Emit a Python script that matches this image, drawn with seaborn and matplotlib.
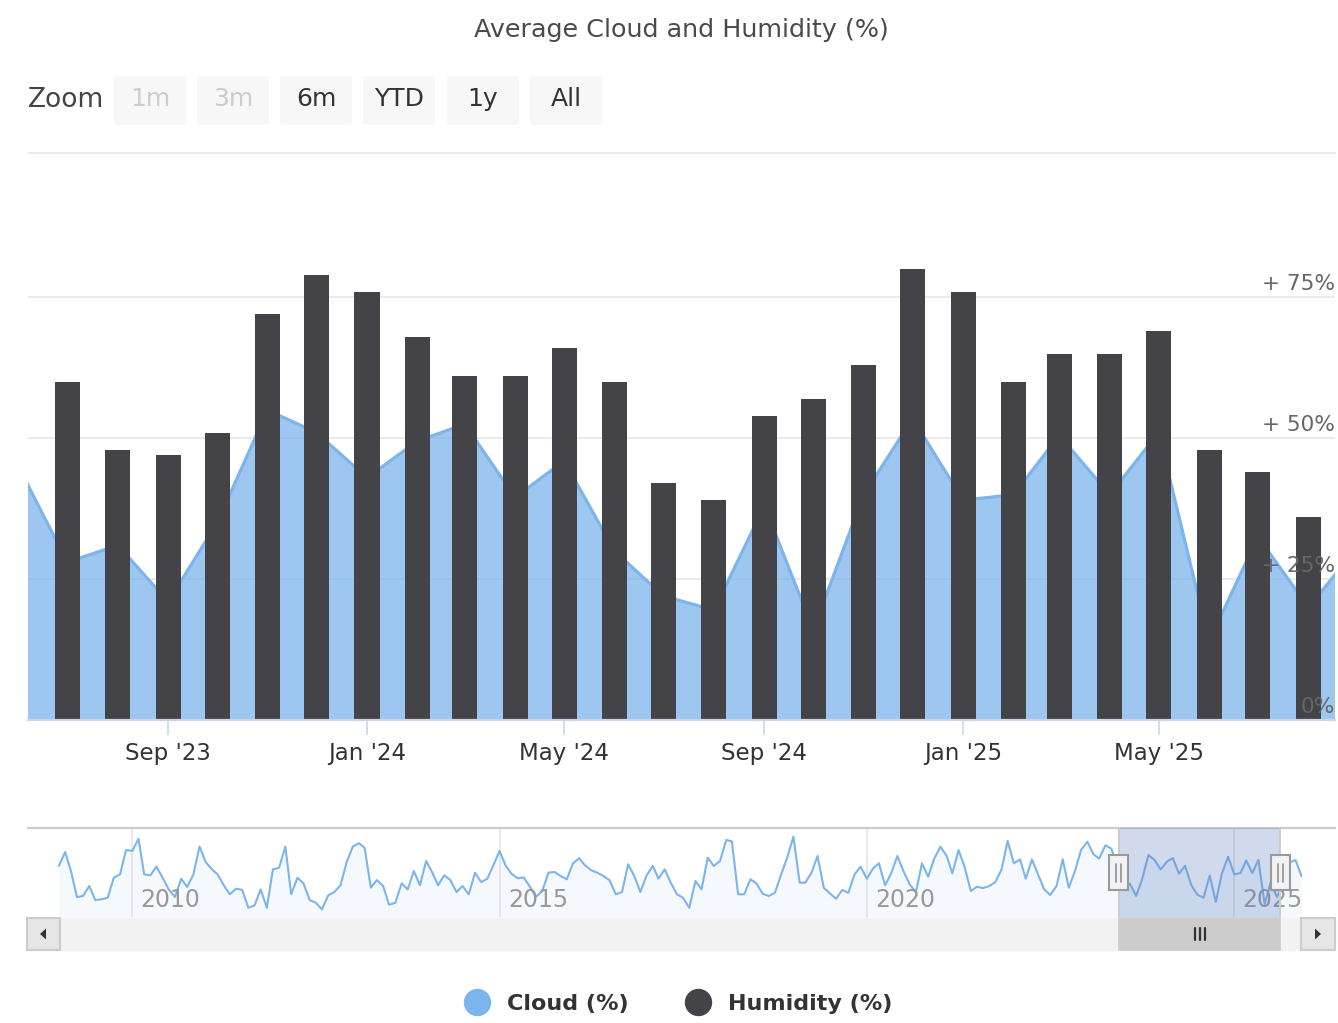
import numpy as np
import pandas as pd
import matplotlib
matplotlib.use("Agg")
import matplotlib.pyplot as plt
import matplotlib.dates as mdates
from matplotlib.patches import Rectangle, FancyBboxPatch, Polygon
from matplotlib.lines import Line2D
import seaborn as sns

# ---------------- data ----------------
# monthly average cloud cover (%), Jan 2009 - May 2023 (navigator history)
cloud_history = [
    45.9, 57.5, 42.3, 20.0, 20.9, 29.2, 17.5, 18.1, 19.5, 36.1,
    38.9, 59.2, 58.4, 68.6, 38.9, 38.1, 45.3, 36.1, 26.4, 20.0,
    35.3, 28.4, 38.9, 62.0, 49.2, 43.1, 38.9, 29.8, 22.3, 27.0,
    25.9, 11.1, 13.1, 26.4, 11.1, 43.1, 44.5, 62.0, 22.3, 36.1,
    31.4, 17.5, 15.3, 9.8, 21.4, 24.2, 29.8, 48.6, 62.0, 64.8,
    61.1, 27.8, 34.2, 29.2, 13.6, 15.3, 31.4, 26.4, 41.7, 29.8,
    50.0, 40.3, 29.8, 38.1, 34.2, 24.2, 29.2, 22.3, 40.3, 32.5,
    35.3, 46.4, 58.4, 45.9, 39.5, 35.6, 36.4, 28.6, 20.3, 25.0,
    40.3, 40.9, 37.5, 34.8, 48.1, 52.3, 46.4, 42.3, 40.3, 37.5,
    33.9, 22.3, 24.2, 47.3, 37.5, 24.2, 38.1, 45.9, 35.3, 43.1,
    32.0, 22.3, 19.5, 11.1, 33.4, 26.4, 52.8, 45.9, 50.0, 67.5,
    66.4, 22.3, 22.3, 34.8, 31.4, 22.8, 20.9, 23.6, 38.9, 52.8,
    70.3, 32.0, 32.0, 40.3, 54.2, 27.8, 23.1, 18.6, 25.9, 23.6,
    38.9, 45.3, 35.3, 43.9, 48.1, 29.8, 39.8, 54.2, 41.7, 30.6,
    24.2, 48.1, 37.0, 52.0, 62.0, 54.2, 39.8, 59.2, 45.3, 25.0,
    28.6, 27.5, 29.2, 32.5, 43.1, 66.7, 48.1, 51.4, 35.3, 51.4,
    38.9, 26.4, 21.7, 29.2, 51.4, 27.8, 41.7, 59.2, 66.1, 55.6,
    52.0, 63.1, 60.3,
]
# monthly average cloud cover (%), Jun 2023 - Sep 2025 (main view)
cloud = [
    45, 28, 31, 21, 35, 55, 51, 43, 49.5, 52.5, 39.5, 46, 30, 22,
    19.5, 38, 16, 40, 53.5, 39, 40, 50.5, 40, 51, 14, 32.5, 20, 31,
]
# Oct - Dec 2025
cloud_tail = [48.6, 50.9, 37.5]
# monthly average humidity (%), Jul 2023 - Aug 2025
humidity = [
    60, 48, 47, 51, 72, 79, 76, 68, 61, 61, 66, 60, 42,
    39, 54, 57, 63, 80, 76, 60, 65, 65, 69, 48, 44, 36,
]

x_tick_dates = ["2023-09-01", "2024-01-01", "2024-05-01",
                "2024-09-01", "2025-01-01", "2025-05-01"]
x_tick_labels = ["Sep '23", "Jan '24", "May '24", "Sep '24", "Jan '25", "May '25"]
y_ticks = [0, 25, 50, 75]
y_tick_labels = ["0%", "+ 25%", "+ 50%", "+ 75%"]
nav_year_dates = ["2010-01-01", "2015-01-01", "2020-01-01", "2025-01-01"]
nav_year_labels = ["2010", "2015", "2020", "2025"]
zoom_buttons = ["1m", "3m", "6m", "YTD", "1y", "All"]
zoom_enabled = [False, False, True, True, True, True]
series_names = ["Cloud (%)", "Humidity (%)"]

# ---------------- style ----------------
sns.set_theme(style="white")
plt.rcParams["font.family"] = ["DejaVu Sans"]

CLOUD = "#7cb5ec"
HUM = "#434348"
W, H = 1338, 1023
fig = plt.figure(figsize=(W / 100, H / 100), dpi=100)
fig.patch.set_facecolor("white")


def fig_rect(x0, y0, x1, y1):
    return [x0 / W, 1 - y1 / H, (x1 - x0) / W, (y1 - y0) / H]


# ---------------- main chart ----------------
ax = fig.add_axes(fig_rect(28, 153.3, 1335, 720))
ax.set_facecolor("none")

cloud_dates = pd.date_range("2023-06-01", periods=len(cloud), freq="MS")
hum_dates = pd.date_range("2023-07-01", periods=len(humidity), freq="MS")
cx = mdates.date2num(cloud_dates.to_pydatetime())
hx = mdates.date2num(hum_dates.to_pydatetime())

ax.fill_between(cx, cloud, 0, color=CLOUD, alpha=0.75, lw=0, zorder=2)
sns.lineplot(x=cx, y=cloud, ax=ax, color=CLOUD, lw=2.3, zorder=3)

bar_days = 15.4
min_gap = np.min(np.diff(hx))
sns.barplot(x=hx, y=humidity, ax=ax, native_scale=True, orient="x",
            width=bar_days / min_gap, color=HUM, saturation=1,
            errorbar=None, edgecolor="none", linewidth=0, zorder=4)

x_left = mdates.date2num(pd.Timestamp("2023-09-01")) - 86.1
x_right = mdates.date2num(pd.Timestamp("2025-05-01")) + 108.3
ax.set_xlim(x_left, x_right)
ax.set_ylim(0, (720 - 153.3) / 5.635)
ax.set_xlabel("")
ax.set_ylabel("")

ax.set_yticks([0, 25, 50, 75])
ax.yaxis.grid(True, color="#e6e6e6", lw=1.2)
ax.xaxis.grid(False)
ax.set_axisbelow(True)
ax.tick_params(axis="y", length=0, labelleft=False, labelright=False)

ax.set_xticks(mdates.date2num(pd.to_datetime(x_tick_dates).to_pydatetime()))
ax.set_xticklabels(x_tick_labels, fontsize=16.5, color="#333333")
ax.tick_params(axis="x", length=11, width=1.2, color="#ccd6eb", pad=5, bottom=True)
for s in ["left", "right"]:
    ax.spines[s].set_visible(False)
ax.spines["top"].set_color("#e6e6e6")
ax.spines["top"].set_linewidth(1.2)
ax.spines["bottom"].set_color("#ccd6eb")
ax.spines["bottom"].set_linewidth(1.6)
ax.spines["bottom"].set_zorder(5)

for v, lbl in zip(y_ticks, y_tick_labels):
    ax.annotate(lbl, xy=(1, v), xycoords=ax.get_yaxis_transform(),
                xytext=(0, 9.5), textcoords="offset points",
                ha="right", va="center", fontsize=15.6, color="#666666",
                zorder=10)

# ---------------- navigator ----------------
nav = fig.add_axes(fig_rect(28, 828, 1335, 917))
nav.set_facecolor("white")
all_cloud = cloud_history + cloud + cloud_tail
all_dates = pd.date_range("2009-01-01", periods=len(all_cloud), freq="MS")
ax_n = mdates.date2num(all_dates.to_pydatetime())
nav_ylo, nav_yhi = 3.4, 77.5
nav.fill_between(ax_n, all_cloud, nav_ylo, color=CLOUD, alpha=0.07, lw=0, zorder=2)
sns.lineplot(x=ax_n, y=all_cloud, ax=nav, color=CLOUD, lw=1.5, zorder=3)
y2010 = mdates.date2num(pd.Timestamp("2010-01-01"))
y2025 = mdates.date2num(pd.Timestamp("2025-01-01"))
ppd = (1234.3 - 132.3) / (y2025 - y2010)
nav.set_xlim(y2010 - (132.3 - 28) / ppd, y2025 + (1335 - 1234.3) / ppd)
nav.set_ylim(nav_ylo, nav_yhi)
nav.set_xlabel("")
nav.set_ylabel("")
nav.set_yticks([])
year_x = mdates.date2num(pd.to_datetime(nav_year_dates).to_pydatetime())
nav.set_xticks(year_x)
nav.xaxis.grid(True, color="#e6e6e6", lw=1.2)
nav.set_axisbelow(True)
nav.tick_params(axis="x", length=0, labelbottom=False)
for s in ["left", "right", "bottom"]:
    nav.spines[s].set_visible(False)
nav.spines["top"].set_color("#cccccc")
nav.spines["top"].set_linewidth(1.6)
for xv, lbl in zip(year_x, nav_year_labels):
    nav.annotate(lbl, xy=(xv, 0), xycoords=nav.get_xaxis_transform(),
                 xytext=(6, 12.5), textcoords="offset points",
                 ha="left", va="center", fontsize=17, color="#999999", zorder=4)

# selection mask + handles
nav.axvspan(x_left, x_right, color=(102 / 255, 133 / 255, 194 / 255),
            alpha=0.3, lw=0, zorder=5)
for xe in (x_left, x_right):
    nav.axvline(xe, color="#cccccc", lw=1.4, zorder=6)
hw = 9.6 / ppd
for xe in (x_left, x_right):
    nav.add_patch(Rectangle((xe - hw, (917 - 890) / 89), 2 * hw, 35 / 89,
                            transform=nav.get_xaxis_transform(),
                            facecolor="#f2f2f2", edgecolor="#999999",
                            lw=1.5, zorder=8, clip_on=False))
    for dx in (-2.6 / ppd, 2.6 / ppd):
        nav.plot([xe + dx, xe + dx], [(917 - 882) / 89, (917 - 864) / 89],
                 transform=nav.get_xaxis_transform(), color="#999999",
                 lw=1.3, zorder=9, clip_on=False)

# ---------------- overlay (title, range selector, scrollbar) ----------------
ov = fig.add_axes([0, 0, 1, 1])
ov.set_xlim(0, W)
ov.set_ylim(H, 0)
ov.axis("off")
ov.set_zorder(10)

ov.text(681, 30, "Average Cloud and Humidity (%)", ha="center", va="center",
        fontsize=18.3, color="#4a4a4a")

ov.text(28, 100, "Zoom", ha="left", va="center", fontsize=19, color="#444444")
btn_x = [114, 197, 280, 363, 447, 530]
for bx, lbl, en in zip(btn_x, zoom_buttons, zoom_enabled):
    ov.add_patch(FancyBboxPatch((bx, 76), 72, 49,
                                boxstyle="round,pad=0,rounding_size=3",
                                facecolor="#f7f7f7", edgecolor="none"))
    ov.text(bx + 36, 99, lbl, ha="center", va="center", fontsize=18,
            color="#333333" if en else "#cccccc")

# scrollbar
fig.canvas.draw()
px_l = nav.transData.transform((x_left, 0))[0]
px_r = nav.transData.transform((x_right, 0))[0]
ov.add_patch(Rectangle((27, 918), 1308, 32, facecolor="#f2f2f2",
                       edgecolor="#f2f2f2", lw=1))
ov.add_patch(Rectangle((px_l, 918), px_r - px_l, 32, facecolor="#cccccc",
                       edgecolor="#cccccc", lw=1.2))
xc = (px_l + px_r) / 2
for dx in (-5, 0, 5):
    ov.plot([xc + dx, xc + dx], [928, 940], color="#333333", lw=1.6)
ov.add_patch(Rectangle((27, 918), 33, 32, facecolor="#e6e6e6",
                       edgecolor="#cccccc", lw=1.5))
ov.add_patch(Rectangle((1301, 918), 34, 32, facecolor="#e6e6e6",
                       edgecolor="#cccccc", lw=1.5))
ov.add_patch(Polygon([(40, 934), (46, 928.5), (46, 939.5)], closed=True,
                     facecolor="#333333", edgecolor="none"))
ov.add_patch(Polygon([(1321, 934), (1315, 928.5), (1315, 939.5)], closed=True,
                     facecolor="#333333", edgecolor="none"))

# legend
handles = [Line2D([0], [0], marker="o", ls="none", markersize=18.7,
                  markerfacecolor=c, markeredgecolor=c) for c in (CLOUD, HUM)]
fig.legend(handles, series_names, loc="center",
           bbox_to_anchor=(678 / W, 1 - 1004 / H), ncol=2, frameon=False,
           prop={"weight": "bold", "size": 16}, labelcolor="#333333",
           handlelength=1.2, handletextpad=0.75, columnspacing=2.55)

fig.savefig("out.png", dpi=100, facecolor="white")
